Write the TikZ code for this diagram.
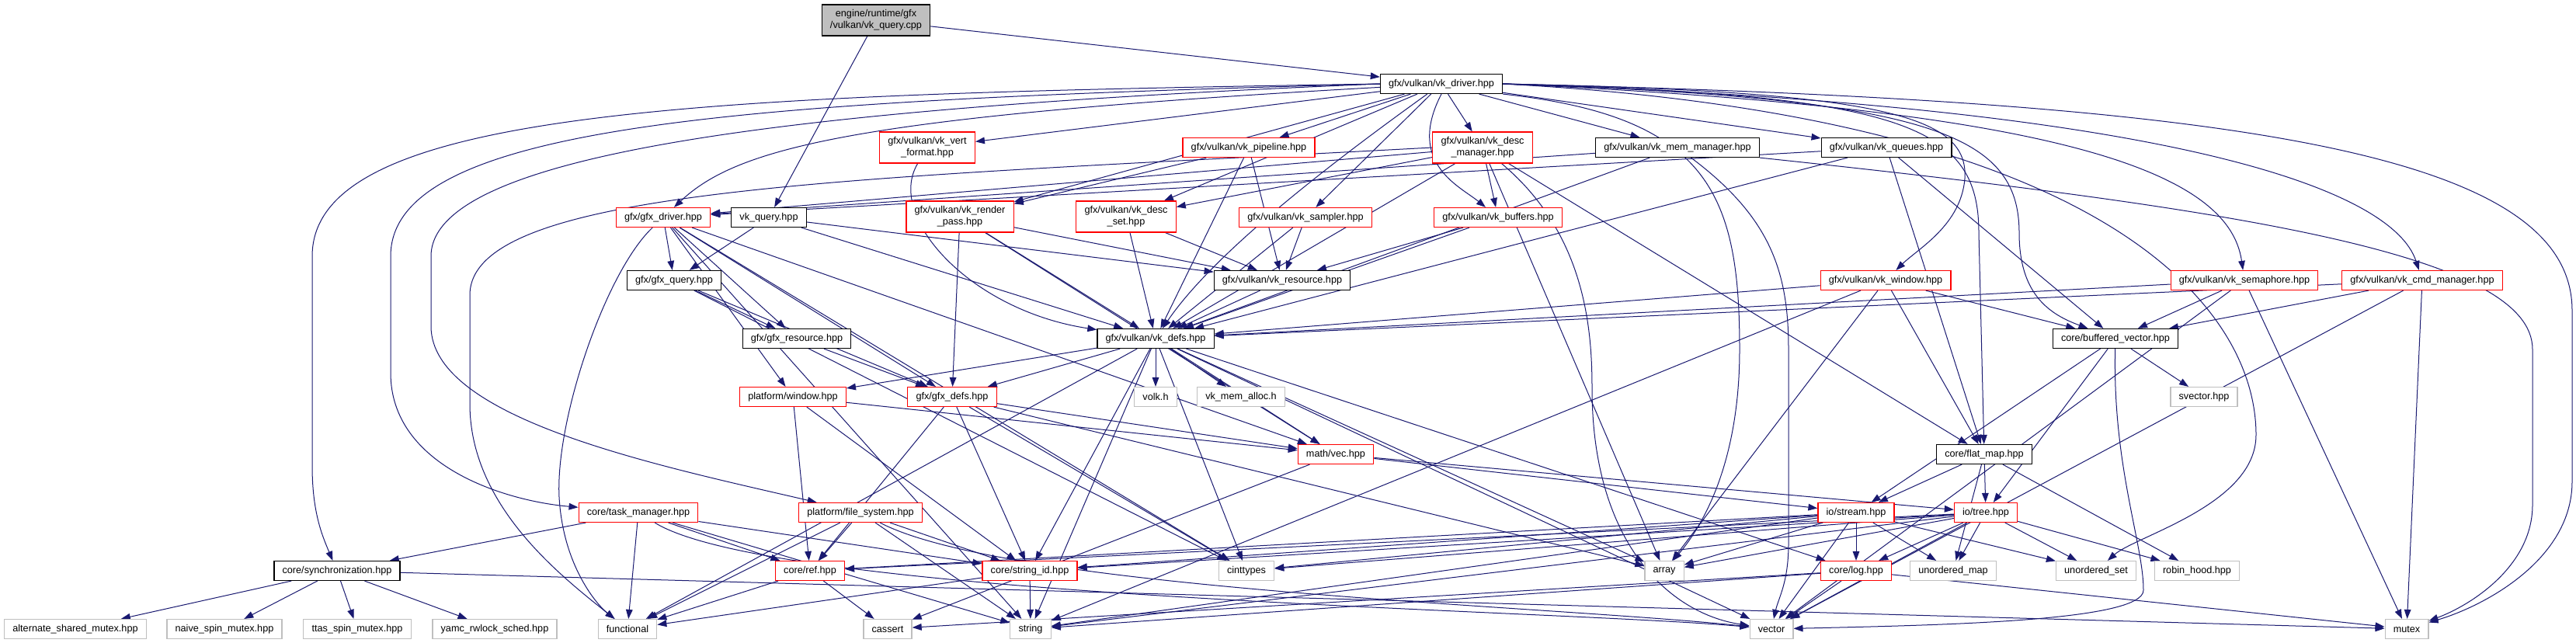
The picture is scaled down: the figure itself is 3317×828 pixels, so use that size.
\documentclass[tikz,border=0pt]{standalone}
\usepackage{fontspec}
\setmainfont{Liberation Sans}
\usetikzlibrary{arrows.meta,backgrounds}
\definecolor{incblue}{HTML}{191970}
\definecolor{sysgray}{HTML}{BFBFBF}

\begin{document}
\begin{tikzpicture}[x=0.75pt,y=-0.75pt,
  hdr/.style={draw=black, fill=white, line width=0.9pt, font=\fontsize{9.5}{11.5}\selectfont,
    inner xsep=8pt, inner ysep=2pt, minimum height=18.75pt, align=center},
  redhdr/.style={hdr, draw=red},
  syshdr/.style={hdr, draw=sysgray},
  twoline/.style={minimum height=30pt},
  srcfile/.style={hdr, fill=sysgray},
  inc/.style={draw=incblue, line width=0.75pt, -{Triangle[length=9pt,width=6.5pt]}}]
  \useasboundingbox (0,0) rectangle (3317,828);
  % source file and driver
  \node[srcfile, twoline] (root) at (1128,26) {engine/runtime/gfx\\/vulkan/vk\_query.cpp};
  \node[hdr] (vkdriver) at (1856,108) {gfx/vulkan/vk\_driver.hpp};
  % row 2
  \node[redhdr, twoline] (vertfmt) at (1194,190) {gfx/vulkan/vk\_vert\\\_format.hpp};
  \node[redhdr] (pipeline) at (1608,190) {gfx/vulkan/vk\_pipeline.hpp};
  \node[redhdr, twoline] (descmgr) at (1909,190) {gfx/vulkan/vk\_desc\\\_manager.hpp};
  \node[hdr] (memmgr) at (2160,190) {gfx/vulkan/vk\_mem\_manager.hpp};
  \node[hdr] (queues) at (2429,190) {gfx/vulkan/vk\_queues.hpp};
  % row 3
  \node[redhdr] (gfxdriver) at (854,280) {gfx/gfx\_driver.hpp};
  \node[hdr] (vkquery) at (990,280) {vk\_query.hpp};
  \node[redhdr, twoline] (renderpass) at (1236,279) {gfx/vulkan/vk\_render\\\_pass.hpp};
  \node[redhdr, twoline] (descset) at (1450,279) {gfx/vulkan/vk\_desc\\\_set.hpp};
  \node[redhdr] (sampler) at (1681,280) {gfx/vulkan/vk\_sampler.hpp};
  \node[redhdr] (buffers) at (1929,280) {gfx/vulkan/vk\_buffers.hpp};
  % row 4
  \node[hdr] (gfxquery) at (868,361) {gfx/gfx\_query.hpp};
  \node[hdr] (vkresource) at (1651,361) {gfx/vulkan/vk\_resource.hpp};
  \node[redhdr] (vkwindow) at (2428,361) {gfx/vulkan/vk\_window.hpp};
  \node[redhdr] (semaphore) at (2890,361) {gfx/vulkan/vk\_semaphore.hpp};
  \node[redhdr] (cmdmgr) at (3119,361) {gfx/vulkan/vk\_cmd\_manager.hpp};
  % row 5
  \node[hdr] (gfxresource) at (1026,436) {gfx/gfx\_resource.hpp};
  \node[hdr] (vkdefs) at (1488,436) {gfx/vulkan/vk\_defs.hpp};
  \node[hdr] (bufvec) at (2724,436) {core/buffered\_vector.hpp};
  % row 6
  \node[redhdr] (platwindow) at (1021,511) {platform/window.hpp};
  \node[redhdr] (gfxdefs) at (1226,511) {gfx/gfx\_defs.hpp};
  \node[syshdr] (volk) at (1488,511) {volk.h};
  \node[syshdr] (vkmemalloc) at (1598,511) {vk\_mem\_alloc.h};
  \node[syshdr] (svector) at (2838,511) {svector.hpp};
  % row 7
  \node[redhdr] (vec) at (1720,585) {math/vec.hpp};
  \node[hdr] (flatmap) at (2555,585) {core/flat\_map.hpp};
  % row 8
  \node[redhdr] (taskmgr) at (822,660) {core/task\_manager.hpp};
  \node[redhdr] (filesys) at (1108,660) {platform/file\_system.hpp};
  \node[redhdr] (stream) at (2390,660) {io/stream.hpp};
  \node[redhdr] (tree) at (2557,660) {io/tree.hpp};
  % row 9
  \node[hdr] (sync) at (434,735) {core/synchronization.hpp};
  \node[redhdr] (ref) at (1043,735) {core/ref.hpp};
  \node[redhdr] (stringid) at (1326,735) {core/string\_id.hpp};
  \node[syshdr] (cinttypes) at (1605,735) {cinttypes};
  \node[syshdr] (array) at (2143,735) {array};
  \node[redhdr] (log) at (2390,735) {core/log.hpp};
  \node[syshdr] (umap) at (2515,735) {unordered\_map};
  \node[syshdr] (uset) at (2699,735) {unordered\_set};
  \node[syshdr] (robin) at (2829,735) {robin\_hood.hpp};
  % row 10
  \node[syshdr] (altmutex) at (97,810) {alternate\_shared\_mutex.hpp};
  \node[syshdr] (naive) at (289,810) {naive\_spin\_mutex.hpp};
  \node[syshdr] (ttas) at (460,810) {ttas\_spin\_mutex.hpp};
  \node[syshdr] (yamc) at (637,810) {yamc\_rwlock\_sched.hpp};
  \node[syshdr] (functional) at (808,810) {functional};
  \node[syshdr] (cassert) at (1143,810) {cassert};
  \node[syshdr] (string) at (1327,810) {string};
  \node[syshdr] (vector) at (2281,810) {vector};
  \node[syshdr] (mutex) at (3099,810) {mutex};

  \begin{scope}[on background layer]
    % straight includes
    \foreach \a/\b in {root/vkdriver, root/vkquery,
        vkdriver/vertfmt, vkdriver/pipeline, vkdriver/descmgr, vkdriver/memmgr, vkdriver/queues,
        vkdriver/renderpass, vkdriver/descset, vkdriver/sampler,
        pipeline/renderpass, pipeline/vkresource, pipeline/vkdefs,
        descmgr/descset, descmgr/buffers, descmgr/vkdefs, descmgr/gfxdriver, descmgr/array, descmgr/flatmap,
        memmgr/gfxdriver, memmgr/vkdefs,
        queues/gfxdriver, queues/vkdefs, queues/bufvec, queues/flatmap,
        gfxdriver/gfxquery, gfxdriver/gfxresource, gfxdriver/gfxdefs, gfxdriver/platwindow, gfxdriver/vec,
        gfxdriver/cinttypes, gfxdriver/string,
        vkquery/gfxquery, vkquery/vkdefs, vkquery/vkresource,
        renderpass/gfxdefs, renderpass/vkresource, renderpass/vkdefs, renderpass/vec,
        descset/vkresource, descset/vkdefs, sampler/vkresource, sampler/vkdefs,
        buffers/vkresource, buffers/vkdefs,
        gfxquery/gfxresource, gfxquery/gfxdefs, gfxquery/cinttypes, vkresource/vkdefs,
        vkwindow/vkdefs, vkwindow/bufvec, vkwindow/flatmap, vkwindow/array, vkwindow/string,
        semaphore/vkdefs, semaphore/bufvec, semaphore/vector, semaphore/mutex,
        cmdmgr/vkdefs, cmdmgr/bufvec, cmdmgr/vector, cmdmgr/mutex,
        gfxresource/gfxdefs,
        vkdefs/platwindow, vkdefs/gfxdefs, vkdefs/volk, vkdefs/vkmemalloc, vkdefs/vec, vkdefs/stringid,
        vkdefs/string, vkdefs/cinttypes, vkdefs/functional, vkdefs/vector, vkdefs/array, vkdefs/log,
        platwindow/vec, platwindow/ref, platwindow/stringid,
        gfxdefs/ref, gfxdefs/stringid, gfxdefs/cinttypes, gfxdefs/vec, gfxdefs/array,
        vec/stream, vec/tree, vec/cassert,
        flatmap/stream, flatmap/tree, flatmap/umap, flatmap/robin,
        bufvec/svector, bufvec/tree, bufvec/stream,
        taskmgr/sync, taskmgr/ref, taskmgr/stringid, taskmgr/functional, taskmgr/string,
        filesys/ref, filesys/stringid, filesys/functional, filesys/string,
        stream/ref, stream/stringid, stream/cinttypes, stream/array, stream/log, stream/umap, stream/uset,
        stream/vector, stream/string,
        tree/ref, tree/stringid, tree/cinttypes, tree/array, tree/log, tree/umap, tree/uset, tree/robin,
        tree/vector, tree/string,
        sync/altmutex, sync/naive, sync/ttas, sync/yamc, sync/mutex,
        ref/functional, ref/cassert, stringid/string, stringid/functional,
        log/string, log/vector, log/cassert, log/mutex}
      \draw[inc] (\a) -- (\b);
    % long routed includes
    \draw[inc] (vkdriver.west) .. controls (900,122) and (402,140) .. (402,330) -- (402,600)
      .. controls (402,660) and (415,690) .. (sync);
    \draw[inc] (vkdriver.west) .. controls (950,130) and (503,160) .. (503,330) -- (503,480)
      .. controls (503,600) and (650,645) .. (taskmgr);
    \draw[inc] (vkdriver.west) .. controls (1000,140) and (555,200) .. (555,330) -- (555,420)
      .. controls (555,540) and (850,600) .. (filesys);
    \draw[inc] (descmgr.west) .. controls (1100,230) and (605,240) .. (605,380) -- (605,520)
      .. controls (605,650) and (720,740) .. (functional);
    \draw[inc] (gfxdriver) .. controls (780,350) and (715,540) .. (720,640)
      .. controls (725,730) and (770,780) .. (functional);
    \draw[inc] (vkdriver) .. controls (1100,150) and (950,190) .. (gfxdriver);
    \draw[inc] (vkdriver.south) .. controls (1810,210) and (1880,240) .. (buffers);
    \draw[inc] (vkdriver) .. controls (1700,220) and (1560,330) .. (vkdefs);
    \draw[inc] (vertfmt) .. controls (1140,280) and (1250,400) .. (vkdefs);
    \draw[inc] (vkdriver.south east) .. controls (2200,150) and (2240,250) .. (2240,450)
      .. controls (2240,600) and (2190,680) .. (array);
    \draw[inc] (descmgr) .. controls (2040,300) and (2050,420) .. (2050,500)
      .. controls (2050,700) and (2150,790) .. (vector);
    \draw[inc] (memmgr) .. controls (2280,280) and (2303,350) .. (2303,450) -- (2303,700)
      .. controls (2303,750) and (2290,770) .. (vector);
    % right-hand sweep from the driver, passing over vk_queues
    \draw[inc] (vkdriver.east) .. controls (2430,118) and (2535,150) .. (2530,230)
      .. controls (2525,290) and (2470,320) .. (vkwindow);
    \draw[inc] (vkdriver.east) .. controls (2450,122) and (2548,160) .. (2548,300) -- (flatmap);
    \draw[inc] (vkdriver.east) .. controls (2480,126) and (2600,170) .. (2600,300)
      .. controls (2600,380) and (2640,405) .. (bufvec);
    \draw[inc] (vkdriver.east) .. controls (2650,140) and (2870,220) .. (semaphore);
    \draw[inc] (vkdriver.east) .. controls (2780,135) and (3080,240) .. (cmdmgr);
    \draw[inc] (vkdriver.east) .. controls (2720,150) and (2905,400) .. (2905,560)
      .. controls (2905,650) and (2750,690) .. (uset);
    \draw[inc] (vkdriver.east) .. controls (2900,130) and (3312,200) .. (3312,400) -- (3312,620)
      .. controls (3312,720) and (3200,780) .. (mutex);
    \draw[inc] (memmgr.south east) .. controls (2900,270) and (3261,330) .. (3261,450) -- (3261,650)
      .. controls (3261,730) and (3180,780) .. (mutex);
    \draw[inc] (bufvec) .. controls (2720,600) and (2760,700) .. (2760,760)
      .. controls (2760,800) and (2500,805) .. (vector);
    \draw[inc] (taskmgr) .. controls (1000,770) and (2000,785) .. (vector);
    \draw[inc] (filesys) .. controls (1300,760) and (2000,780) .. (vector);
  \end{scope}
\end{tikzpicture}
\end{document}
